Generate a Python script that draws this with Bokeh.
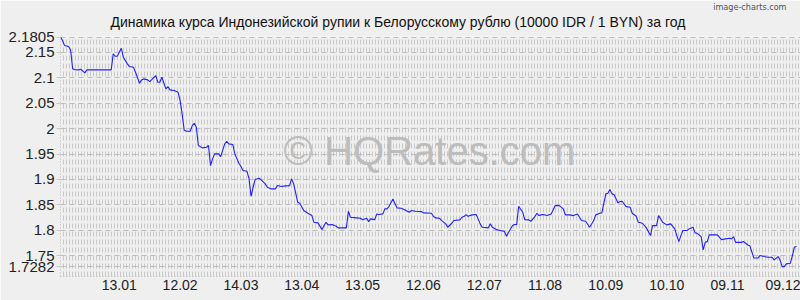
import numpy as np
import pandas as pd
from bokeh.plotting import figure
from bokeh.models import (ColumnDataSource, Range1d, FixedTicker, DatetimeTickFormatter, Label, Title)
from bokeh.embed import file_html
from bokeh.resources import INLINE

title_text = "Динамика курса Индонезийской рупии к Белорусскому рублю (10000 IDR / 1 BYN) за год"
credit_text = "image-charts.com"
watermark_text = "© HQRates.com"

dates = [
    "2024-12-15", "2024-12-16", "2024-12-17", "2024-12-19", "2024-12-20", "2024-12-21",
    "2024-12-22", "2024-12-24", "2024-12-25", "2024-12-27", "2024-12-28", "2025-01-09",
    "2025-01-10", "2025-01-11", "2025-01-12", "2025-01-14", "2025-01-15", "2025-01-17",
    "2025-01-18", "2025-01-20", "2025-01-21", "2025-01-23", "2025-01-24", "2025-01-25",
    "2025-01-27", "2025-01-28", "2025-01-29", "2025-01-31", "2025-02-01", "2025-02-02",
    "2025-02-03", "2025-02-05", "2025-02-06", "2025-02-07", "2025-02-09", "2025-02-11",
    "2025-02-12", "2025-02-13", "2025-02-14", "2025-02-15", "2025-02-17", "2025-02-18",
    "2025-02-19", "2025-02-20", "2025-02-21", "2025-02-23", "2025-02-25", "2025-02-26",
    "2025-02-27", "2025-02-28", "2025-03-01", "2025-03-03", "2025-03-04", "2025-03-06",
    "2025-03-07", "2025-03-08", "2025-03-10", "2025-03-11", "2025-03-13", "2025-03-14",
    "2025-03-15", "2025-03-17", "2025-03-18", "2025-03-19", "2025-03-20", "2025-03-21",
    "2025-03-23", "2025-03-24", "2025-03-26", "2025-03-27", "2025-03-29", "2025-03-31",
    "2025-04-01", "2025-04-03", "2025-04-05", "2025-04-07", "2025-04-08", "2025-04-09",
    "2025-04-11", "2025-04-12", "2025-04-14", "2025-04-16", "2025-04-18", "2025-04-19",
    "2025-04-21", "2025-04-23", "2025-04-24", "2025-04-25", "2025-04-26", "2025-04-28",
    "2025-04-30", "2025-05-01", "2025-05-05", "2025-05-06", "2025-05-07", "2025-05-10",
    "2025-05-12", "2025-05-13", "2025-05-15", "2025-05-16", "2025-05-17", "2025-05-19",
    "2025-05-20", "2025-05-21", "2025-05-23", "2025-05-24", "2025-05-25", "2025-05-26",
    "2025-05-28", "2025-05-29", "2025-05-30", "2025-06-01", "2025-06-03", "2025-06-05",
    "2025-06-06", "2025-06-08", "2025-06-11", "2025-06-12", "2025-06-16", "2025-06-17",
    "2025-06-18", "2025-06-20", "2025-06-21", "2025-06-23", "2025-06-24", "2025-06-26",
    "2025-06-27", "2025-06-30", "2025-07-01", "2025-07-02", "2025-07-03", "2025-07-04",
    "2025-07-06", "2025-07-08", "2025-07-09", "2025-07-10", "2025-07-11", "2025-07-14",
    "2025-07-15", "2025-07-16", "2025-07-18", "2025-07-20", "2025-07-22", "2025-07-23",
    "2025-07-24", "2025-07-26", "2025-07-27", "2025-07-28", "2025-07-29", "2025-07-31",
    "2025-08-01", "2025-08-03", "2025-08-04", "2025-08-06", "2025-08-07", "2025-08-08",
    "2025-08-09", "2025-08-10", "2025-08-12", "2025-08-14", "2025-08-15", "2025-08-16",
    "2025-08-18", "2025-08-20", "2025-08-21", "2025-08-23", "2025-08-25", "2025-08-27",
    "2025-08-28", "2025-08-29", "2025-08-31", "2025-09-02", "2025-09-04", "2025-09-05",
    "2025-09-07", "2025-09-08", "2025-09-10", "2025-09-11", "2025-09-12", "2025-09-13",
    "2025-09-14", "2025-09-16", "2025-09-17", "2025-09-18", "2025-09-20", "2025-09-22",
    "2025-09-23", "2025-09-25", "2025-09-26", "2025-09-28", "2025-09-30", "2025-10-02",
    "2025-10-03", "2025-10-05", "2025-10-06", "2025-10-08", "2025-10-10", "2025-10-12",
    "2025-10-14", "2025-10-15", "2025-10-16", "2025-10-17", "2025-10-18", "2025-10-20",
    "2025-10-21", "2025-10-23", "2025-10-24", "2025-10-25", "2025-10-27", "2025-10-28",
    "2025-10-29", "2025-10-30", "2025-10-31", "2025-11-02", "2025-11-04", "2025-11-06",
    "2025-11-08", "2025-11-10", "2025-11-11", "2025-11-12", "2025-11-13", "2025-11-16",
    "2025-11-17", "2025-11-19", "2025-11-20", "2025-11-22", "2025-11-24", "2025-11-25",
    "2025-11-27", "2025-11-29", "2025-12-01", "2025-12-02", "2025-12-04", "2025-12-05",
    "2025-12-06", "2025-12-07", "2025-12-08", "2025-12-10", "2025-12-11", "2025-12-12",
    "2025-12-13",
]

rates = [
    2.1805, 2.1735, 2.1636, 2.1617, 2.1550, 2.1177,
    2.1163, 2.1158, 2.1170, 2.1098, 2.1158, 2.1158,
    2.1473, 2.1426, 2.1426, 2.1583, 2.1406, 2.1276,
    2.1223, 2.1209, 2.1110, 2.0894, 2.0960, 2.0980,
    2.0960, 2.0927, 2.0966, 2.1045, 2.0913, 2.0913,
    2.1012, 2.0783, 2.0829, 2.0764, 2.0750, 2.0716,
    2.0553, 2.0291, 1.9976, 1.9948, 1.9948, 2.0060,
    2.0106, 2.0027, 1.9667, 1.9621, 1.9633, 1.9667,
    1.9272, 1.9404, 1.9503, 1.9503, 1.9450, 1.9700,
    1.9751, 1.9700, 1.9686, 1.9503, 1.9318, 1.9253,
    1.9174, 1.9160, 1.9010, 1.8667, 1.8845, 1.8996,
    1.9022, 1.8990, 1.8912, 1.8845, 1.8813, 1.8813,
    1.8878, 1.8859, 1.8872, 1.8878, 1.9010, 1.8912,
    1.8550, 1.8530, 1.8386, 1.8333, 1.8287, 1.8155,
    1.8143, 1.8011, 1.8090, 1.8155, 1.8104, 1.8110,
    1.8076, 1.8045, 1.8045, 1.8372, 1.8254, 1.8242,
    1.8234, 1.8203, 1.8234, 1.8168, 1.8222, 1.8208,
    1.8320, 1.8307, 1.8320, 1.8419, 1.8419, 1.8464,
    1.8616, 1.8518, 1.8439, 1.8431, 1.8399, 1.8352,
    1.8386, 1.8372, 1.8366, 1.8340, 1.8333, 1.8268,
    1.8242, 1.8234, 1.8189, 1.8124, 1.8057, 1.8136,
    1.8189, 1.8203, 1.8254, 1.8268, 1.8307, 1.8274,
    1.8301, 1.8307, 1.8222, 1.8124, 1.8057, 1.8045,
    1.8124, 1.8057, 1.8011, 1.7992, 1.7972, 1.7880,
    1.7959, 1.8090, 1.8110, 1.8110, 1.8470, 1.8352,
    1.8208, 1.8203, 1.8175, 1.8268, 1.8333, 1.8287,
    1.8301, 1.8307, 1.8287, 1.8320, 1.8399, 1.8484,
    1.8484, 1.8419, 1.8301, 1.8301, 1.8287, 1.8320,
    1.8254, 1.8189, 1.8175, 1.8057, 1.8189, 1.8301,
    1.8333, 1.8340, 1.8715, 1.8727, 1.8800, 1.8715,
    1.8701, 1.8537, 1.8563, 1.8569, 1.8464, 1.8450,
    1.8333, 1.8274, 1.8155, 1.8136, 1.8045, 1.7893,
    1.8090, 1.8090, 1.8287, 1.8155, 1.8104, 1.8124,
    1.8025, 1.7893, 1.7774, 1.7893, 1.7992, 1.7992,
    1.8025, 1.8057, 1.7946, 1.7938, 1.7873, 1.7610,
    1.7760, 1.7774, 1.7907, 1.7907, 1.7907, 1.7814,
    1.7828, 1.7841, 1.7828, 1.7873, 1.7760, 1.7760,
    1.7774, 1.7708, 1.7694, 1.7450, 1.7450, 1.7500,
    1.7480, 1.7466, 1.7466, 1.7414, 1.7480, 1.7401,
    1.7282, 1.7282, 1.7335, 1.7349, 1.7500, 1.7664,
    1.7684,
]

x_tick_dates = ["2025-01-13", "2025-02-12", "2025-03-14", "2025-04-13", "2025-05-13",
                "2025-06-12", "2025-07-12", "2025-08-11", "2025-09-10", "2025-10-10",
                "2025-11-09", "2025-12-09"]
y_ticks = [2.1805, 2.15, 2.1, 2.05, 2.0, 1.95, 1.9, 1.85, 1.8, 1.75, 1.7282]
y_tick_labels = ["2.1805", "2.15", "2.1", "2.05", "2", "1.95", "1.9", "1.85", "1.8", "1.75", "1.7282"]

FONT = "Liberation Sans"
BG = "#efefef"

src = ColumnDataSource(dict(date=pd.to_datetime(dates), rate=rates))

x_start = pd.Timestamp("2024-12-15")
x_end = pd.Timestamp("2025-12-15")

p = figure(width=800, height=300, x_axis_type="datetime", output_backend="svg",
           toolbar_location=None, title=None,
           x_range=Range1d(x_start, x_end),
           y_range=Range1d(1.7087, 2.1815),
           min_border_left=60, min_border_right=0, min_border_top=36, min_border_bottom=24)
p.background_fill_color = BG
p.border_fill_color = BG
p.outline_line_color = None

# grid: dense dashed vertical strokes + dashed horizontal lines
ms0 = x_start.value // 10**6
ms1 = x_end.value // 10**6
step = 1.48 * 86400000
p.xgrid.ticker = FixedTicker(ticks=list(np.arange(ms0 + step, ms1, step)))
p.xgrid.grid_line_color = "#c9c9c9"
p.xgrid.grid_line_dash = "5 3"
p.xgrid.grid_line_width = 1
p.ygrid.ticker = FixedTicker(ticks=y_ticks)
p.ygrid.grid_line_color = "#bdbdbd"
p.ygrid.grid_line_dash = "5 4"

# axes
p.xaxis.ticker = FixedTicker(ticks=[pd.Timestamp(d).value // 10**6 for d in x_tick_dates])
p.xaxis.formatter = DatetimeTickFormatter(days="%d.%m", months="%d.%m", years="%d.%m")
p.yaxis.ticker = FixedTicker(ticks=y_ticks)
p.yaxis.major_label_overrides = {t: l for t, l in zip(y_ticks, y_tick_labels)}
for ax in (p.xaxis, p.yaxis):
    ax.axis_line_color = "#b0b0b0"
    ax.axis_line_dash = "1 2"
    ax.major_tick_in = 0
    ax.minor_tick_line_color = None
    ax.major_label_text_font = FONT
    ax.major_label_text_color = "#222222"
p.yaxis.major_tick_out = 4
p.yaxis.major_tick_line_color = "#c8c8c8"
p.yaxis.major_label_standoff = 2
p.yaxis.major_label_text_font_size = "15px"
p.xaxis.major_tick_out = 0
p.xaxis.major_label_standoff = 3
p.xaxis.major_label_text_font_size = "14px"

# title and credit line above the frame
main_title = Title(text=title_text, align="left", offset=50, standoff=10,
                   vertical_align="top",
                   text_font=FONT, text_font_size="14px", text_font_style="normal",
                   text_color="#111111")
credit = Title(text=credit_text, align="right", offset=14, standoff=-6,
               text_font="DejaVu Sans Condensed", text_font_size="9px",
               text_font_style="normal", text_color="#555555")
p.above = [main_title, credit]

# watermark
p.add_layout(Label(x=pd.Timestamp("2025-06-15"), y=1.955, text=watermark_text,
                   text_font=FONT, text_font_size="40px", text_color="#bdbdbd",
                   text_align="center", text_baseline="middle"))

p.line("date", "rate", source=src, line_color="#2020ff", line_width=1.1)

open("out.html", "w").write(file_html(p, INLINE))
